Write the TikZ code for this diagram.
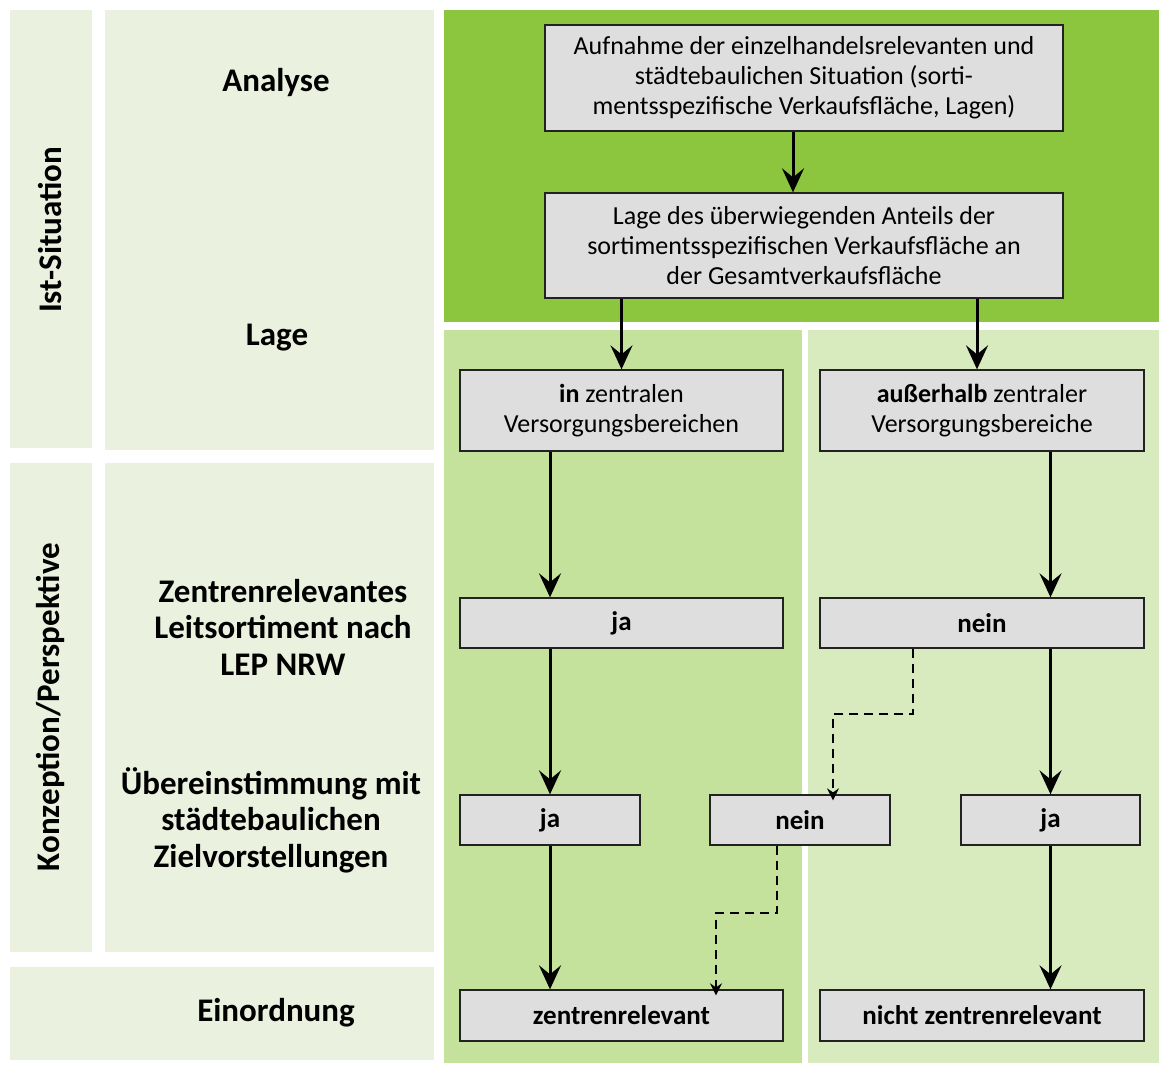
\documentclass[tikz,border=0pt]{standalone}
\usepackage{fontspec}
\setmainfont{Carlito}
\usetikzlibrary{arrows.meta}
\definecolor{gdark}{HTML}{8CC63E}
\definecolor{gmid}{HTML}{C5E29D}
\definecolor{glight}{HTML}{D8EBBF}
\definecolor{gpale}{HTML}{EAF1DE}
\definecolor{boxgray}{HTML}{DEDEDE}
\definecolor{boxline}{HTML}{222222}
\tikzset{
  flowbox/.style={draw=boxline, line width=1.3pt, fill=boxgray, inner sep=0pt, align=center,
     font=\fontsize{26}{30}\selectfont},
  boldbox/.style={flowbox, font=\fontsize{27}{30}\selectfont\bfseries},
  sidelabel/.style={align=center, font=\fontsize{33}{36.5}\selectfont\bfseries},
  flowarrow/.style={line width=3pt, -{Stealth[length=24pt, width=22pt, inset=9pt]}},
  dasharrow/.style={line width=2pt, dash pattern=on 9pt off 6pt, -{Stealth[length=12pt, width=12pt, inset=4pt]}}
}
\begin{document}
\begin{tikzpicture}[x=1pt, y=-1pt]
\useasboundingbox (0,0) rectangle (1159,1065);
\fill[white] (0,0) rectangle (1159,1065);
% left panels
\fill[gpale] (10,10) rectangle (92,448);
\fill[gpale] (105,10) rectangle (434,450);
\fill[gpale] (10,463) rectangle (92,952);
\fill[gpale] (105,463) rectangle (434,952);
\fill[gpale] (10,967) rectangle (434,1060);
% right panels
\fill[gdark] (444,10) rectangle (1159,322);
\fill[gmid] (444,330) rectangle (802,1063);
\fill[glight] (808,330) rectangle (1159,1063);

% side labels
\node[sidelabel, rotate=90] (ist) at (50,230) {Ist-Situation};
\node[sidelabel, rotate=90] (konz) at (50,707) {Konzeption/Perspektive};
\node[sidelabel] (analyse) at (276,83) {Analyse};
\node[sidelabel] (lage) at (277,338) {Lage};
\node[sidelabel] (zlab) at (283,627) {Zentrenrelevantes\\Leitsortiment nach\\LEP NRW};
\node[sidelabel] (ulab) at (271,820) {Übereinstimmung mit\\städtebaulichen\\Zielvorstellungen};
\node[sidelabel] (elab) at (276,1013) {Einordnung};

% flow boxes
\node[flowbox, minimum width=518pt, minimum height=106pt] (b1) at (804,78)
  {Aufnahme der einzelhandelsrelevanten und\\städtebaulichen Situation (sorti-\\mentsspezifische Verkaufsfläche, Lagen)};
\node[flowbox, minimum width=518pt, minimum height=105pt] (b2) at (804,245.5)
  {Lage des überwiegenden Anteils der\\sortimentsspezifischen Verkaufsfläche an\\der Gesamtverkaufsfläche};
\node[flowbox, minimum width=323pt, minimum height=81pt] (inb) at (621.5,410.5)
  {\textbf{in} zentralen\\Versorgungsbereichen};
\node[flowbox, minimum width=324pt, minimum height=81pt] (aus) at (982,410.5)
  {\textbf{außerhalb} zentraler\\Versorgungsbereiche};
\node[boldbox, minimum width=323pt, minimum height=50pt] (ja1) at (621.5,623) {ja};
\node[boldbox, minimum width=324pt, minimum height=50pt] (nein1) at (982,623) {nein};
\node[boldbox, minimum width=180pt, minimum height=50pt] (ja2) at (550,820) {ja};
\node[boldbox, minimum width=180pt, minimum height=50pt] (nein2) at (800,820) {nein};
\node[boldbox, minimum width=179pt, minimum height=50pt] (ja3) at (1050.5,820) {ja};
\node[boldbox, minimum width=323pt, minimum height=51pt] (zr) at (621.5,1015.5) {zentrenrelevant};
\node[boldbox, minimum width=324pt, minimum height=51pt] (nzr) at (982,1015.5) {nicht zentrenrelevant};

% solid arrows
\draw[flowarrow] ([xshift=-11pt]b1.south) -- ([xshift=-11pt]b2.north);
\draw[flowarrow] (b2.south -| inb) -- (inb.north);
\draw[flowarrow] ([xshift=-5pt]b2.south -| aus) -- ([xshift=-5pt]aus.north);
\draw[flowarrow] (inb.south -| ja2) -- (ja1.north -| ja2);
\draw[flowarrow] (ja1.south -| ja2) -- (ja2.north);
\draw[flowarrow] (ja2.south) -- (zr.north -| ja2);
\draw[flowarrow] (aus.south -| ja3) -- (nein1.north -| ja3);
\draw[flowarrow] (nein1.south -| ja3) -- (ja3.north);
\draw[flowarrow] (ja3.south) -- (nzr.north -| ja3);

% dashed arrows
\coordinate (k1) at (833,714);
\coordinate (k2) at (716,913);
\draw[dasharrow] ([xshift=-69pt]nein1.south) |- (k1) -- ([yshift=-6pt]k1 |- nein2.north);
\draw[dasharrow] ([xshift=-23pt]nein2.south) |- (k2) -- ([yshift=-6pt]k2 |- zr.north);
\end{tikzpicture}
\end{document}
